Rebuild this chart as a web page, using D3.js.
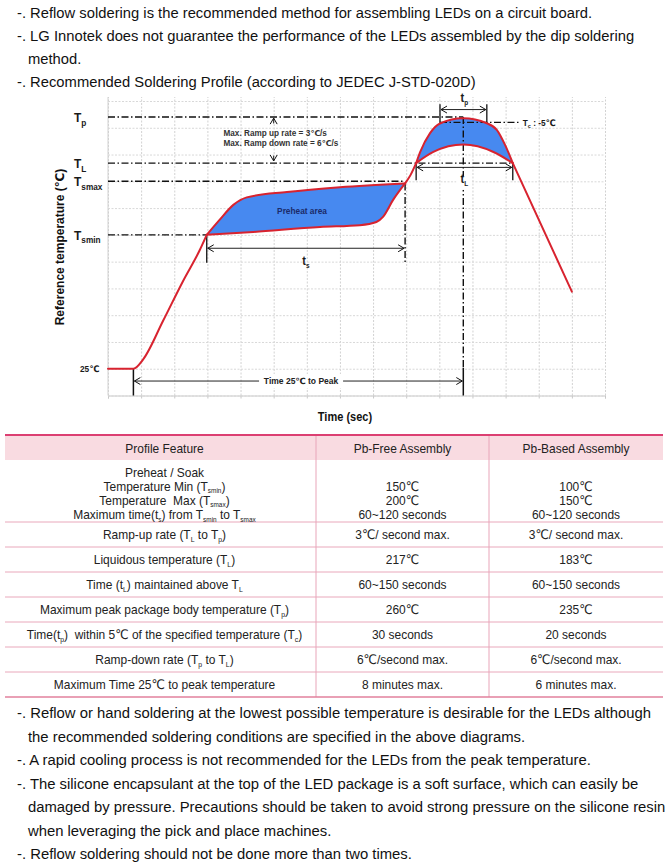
<!DOCTYPE html>
<html><head><meta charset="utf-8">
<script src="https://cdn.jsdelivr.net/npm/d3@7"></script>
<style>
html,body{margin:0;padding:0;background:#fff;}
svg{display:block;}
text{font-family:"Liberation Sans", Arial, "DejaVu Sans", sans-serif; white-space:pre;}
</style></head><body>
<svg id="c" width="672" height="868"></svg>
<script>
// ---------------- DATA ----------------
const introLines = [
  "-. Reflow soldering is the recommended method for assembling LEDs on a circuit board.",
  "-. LG Innotek does not guarantee the performance of the LEDs assembled by the dip soldering",
  "method.",
  "-. Recommended Soldering Profile (according to JEDEC J-STD-020D)"
];
const noteLines = [
  "-. Reflow or hand soldering at the lowest possible temperature is desirable for the LEDs although",
  "the recommended soldering conditions are specified in the above diagrams.",
  "-. A rapid cooling process is not recommended for the LEDs from the peak temperature.",
  "-. The silicone encapsulant at the top of the LED package is a soft surface, which can easily be",
  "damaged by pressure. Precautions should be taken to avoid strong pressure on the silicone resin",
  "when leveraging the pick and place machines.",
  "-. Reflow soldering should not be done more than two times."
];
// temperature levels (°C) and their labels
const levelNames = ["T_{p}", "T_{L}", "T_{smax}", "T_{smin}", "25℃"];
const levelTemps = [260, 217, 200, 150, 25];
const tcTemp = 255;
// grid ticks
const timeGrid = d3.range(0, 451, 30);
const tempGrid = d3.range(0, 276, 25);
// key times (s)
const t25 = 23, tSmin = 89.4, tSmax = 269, tL1 = 279, tL2 = 366.5, tp1 = 300.6, tp2 = 343, tPeak = 321.7;
// profile curves [time s, temperature °C]
const rampProfile  = [[0,25],[23,25],[32,34],[50,70],[68,107],[83,135.6],[89.4,150]];
const preheatUpper = [[89.4,150],[101,164],[113.5,178],[125.6,185],[162,190],[210,194.5],[269,198]];
const preheatLower = [[89.4,150],[131.6,152.7],[192,157.4],[228,159],[243,162],[249,166.8],[258,182.4],[269,198]];
const transition   = [[269,198],[274,206],[279,217]];
const peakUpper    = [[279,217],[282.5,227],[291.6,245],[300.6,254],[321.7,258.8],[343,254.2],[352,248],[359.5,234],[366.5,217]];
const peakLower    = [[279,217],[294.6,227.4],[321.7,234.3],[349,227.4],[366.5,217]];
const cooling      = [[366.5,217],[420,97]];
// table
const tableHeader = ["Profile Feature", "Pb-Free Assembly", "Pb-Based Assembly"];
const featureRows = [
  ["Preheat / Soak", "Temperature Min (T_{smin})", "Temperature  Max (T_{smax})", "Maximum time(t_{s}) from T_{smin} to T_{smax}"],
  ["Ramp-up rate (T_{L} to T_{p})"],
  ["Liquidous temperature (T_{L})"],
  ["Time (t_{L}) maintained above T_{L}"],
  ["Maximum peak package body temperature (T_{p})"],
  ["Time(t_{p})  within 5℃ of the specified temperature (T_{c})"],
  ["Ramp-down rate (T_{p} to T_{L})"],
  ["Maximum Time 25℃ to peak temperature"]
];
const pbFreeRows = [["", "150℃", "200℃", "60~120 seconds"], ["3℃/ second max."], ["217℃"], ["60~150 seconds"], ["260℃"], ["30 seconds"], ["6℃/second max."], ["8 minutes max."]];
const pbBasedRows = [["", "100℃", "150℃", "60~120 seconds"], ["3℃/ second max."], ["183℃"], ["60~150 seconds"], ["235℃"], ["20 seconds"], ["6℃/second max."], ["6 minutes max."]];

// ---------------- HELPERS ----------------
const svg = d3.select("#c");
const SX = 0.92;
function txt(g, x, y, s, o = {}) {
  const size = o.size || 13;
  const t = g.append("text")
    .attr("transform", `translate(${x},${y}) scale(${o.sx ?? SX},1)`)
    .attr("text-anchor", o.anchor || "start")
    .attr("font-size", size)
    .attr("font-weight", o.bold ? "bold" : "normal")
    .attr("fill", o.fill || "#1a1a1a");
  const subDy = o.subDy ?? size * 0.25;
  const parts = s.split(/(_\{[^}]*\})/);
  let shifted = false;
  parts.forEach(p => {
    if (!p) return;
    if (p.startsWith("_{")) {
      t.append("tspan").attr("dy", subDy).attr("font-size", o.subSize || size * 0.62).text(p.slice(2, -1));
      shifted = true;
    } else {
      const ts = t.append("tspan").text(p);
      if (shifted) { ts.attr("dy", -subDy); shifted = false; }
    }
  });
  return t;
}

// ---------------- INTRO TEXT ----------------
introLines.forEach((s, i) => {
  txt(svg, s.startsWith("-.") ? 17 : 28, 18 + i * 23, s, {size: 15, fill: "#111", sx: 0.985});
});

// ---------------- CHART ----------------
const x = d3.scaleLinear().domain([0, 450]).range([108, 605]);
const y = d3.scaleLinear().domain([0, 275]).range([395.5, 101]);

// grid via axes
const gx = svg.append("g").attr("transform", `translate(0,${y(0)})`)
  .call(d3.axisBottom(x).tickValues(timeGrid).tickSize(-(y(0) - 97)).tickFormat(""));
gx.select(".domain").remove();
gx.selectAll(".tick line").attr("stroke", "#d2d2d2").attr("stroke-dasharray", "2,1.5");
const gx2 = svg.append("g").attr("transform", `translate(0,${y(0)})`)
  .call(d3.axisBottom(x).tickValues(timeGrid).tickSize(3).tickFormat(""));
gx2.select(".domain").attr("stroke", "#c8c8c8");
gx2.selectAll(".tick line").attr("stroke", "#c8c8c8");
const gy = svg.append("g").attr("transform", `translate(${x(0)},0)`)
  .call(d3.axisLeft(y).tickValues(tempGrid).tickSize(-(x(450) - x(0))).tickFormat(""));
gy.select(".domain").attr("stroke", "#d2d2d2").attr("d", `M0,97V${y(0)}`);
gy.selectAll(".tick line").attr("stroke", "#d8d8d8").attr("stroke-dasharray", "2,1.5");

// defs: arrow marker
const defs = svg.append("defs");
defs.append("marker").attr("id", "arr").attr("viewBox", "-8 -5 9 10")
  .attr("refX", 0).attr("refY", 0).attr("markerWidth", 9).attr("markerHeight", 10)
  .attr("markerUnits", "userSpaceOnUse").attr("orient", "auto-start-reverse")
  .append("path").attr("d", "M-6,-3.5L0,0L-6,3.5").attr("fill", "none").attr("stroke", "#111").attr("stroke-width", 1);

const line = d3.line().x(d => x(d[0])).y(d => y(d[1])).curve(d3.curveMonotoneX);
const lineLin = d3.line().x(d => x(d[0])).y(d => y(d[1]));

// fills
const BLUE = "#4789f0", RED = "#d8232f";
svg.append("path").attr("fill", BLUE)
  .attr("d", line(preheatUpper) + line(preheatLower.slice().reverse()).replace("M", "L") + "Z");
svg.append("path").attr("fill", BLUE)
  .attr("d", line(peakUpper) + line(peakLower.slice().reverse()).replace("M", "L") + "Z");

// dash-dot reference lines
const DD = "7,2.5,1.5,2.5";
function dline(x1, y1, x2, y2, dash = true, w = 1.4) {
  return svg.append("line").attr("x1", x1).attr("y1", y1).attr("x2", x2).attr("y2", y2)
    .attr("stroke", "#111").attr("stroke-width", w).attr("stroke-dasharray", dash ? DD : null);
}
const levelEnds = [tPeak, tL2, tSmax, tSmin, null];
levelTemps.forEach((T, i) => { if (levelEnds[i] != null) dline(x(0), y(T), x(levelEnds[i]), y(T)); });
// Tc line
dline(x(tp1), y(tcTemp), x(372), y(tcTemp));
// verticals
dline(x(tSmin), y(150), x(tSmin), y(124), false, 1.3);
dline(x(tSmax), y(198), x(tSmax), y(124));
dline(x(tPeak), y(260), x(tPeak), y(26));
dline(x(tPeak), y(26), x(tPeak), y(0), false, 1.5);
dline(x(t25), y(25), x(t25), y(0), false, 1.5);
[tL1, tL2].forEach(t => dline(x(t), y(217), x(t), y(201), false, 1.3));
[tp1, tp2].forEach(t => dline(x(t), y(272), x(t), y(254), false, 1.3));

// profile red outline
[[rampProfile, line], [preheatUpper, line], [preheatLower, line], [transition, line], [peakUpper, line], [peakLower, line], [cooling, lineLin]]
  .forEach(([d, l]) => svg.append("path").attr("d", l(d)).attr("fill", "none").attr("stroke", RED)
    .attr("stroke-width", 2).attr("stroke-linejoin", "round").attr("stroke-linecap", "round"));

// arrows
function arrow(x1, x2, yy, start = true, end = true) {
  const l = svg.append("line").attr("x1", x1).attr("x2", x2).attr("y1", yy).attr("y2", yy)
    .attr("stroke", "#222").attr("stroke-width", 1);
  if (start) l.attr("marker-start", "url(#arr)");
  if (end) l.attr("marker-end", "url(#arr)");
}
arrow(x(tSmin) + 1, x(tSmax) - 1, y(137.5));
arrow(x(tL1) + 1, x(tL2) - 1, y(213));
arrow(x(tp1) + 1, x(tp2) - 1, y(267));
arrow(x(t25) + 1, x(tPeak) - 1, y(13.5));
// ramp arrows (vertical)
svg.append("line").attr("x1", x(150)).attr("x2", x(150)).attr("y1", y(254)).attr("y2", y(259))
  .attr("stroke", "#222").attr("stroke-width", 1).attr("marker-end", "url(#arr)");
svg.append("line").attr("x1", x(150)).attr("x2", x(150)).attr("y1", y(224)).attr("y2", y(219))
  .attr("stroke", "#222").attr("stroke-width", 1).attr("marker-end", "url(#arr)");

// label background for Time 25 to Peak
const midT = 174.8;
svg.append("rect").attr("x", x(midT) - 42).attr("y", y(13.5) - 7).attr("width", 84).attr("height", 14).attr("fill", "#fff");
txt(svg, x(midT), y(13.5) + 3, "Time 25℃ to Peak", {size: 8.5, bold: true, anchor: "middle", fill: "#222", sx: 1});
// t_L label background
svg.append("rect").attr("x", x(tPeak) - 7).attr("y", y(205)).attr("width", 15).attr("height", 14).attr("fill", "#fff");
txt(svg, x(tPeak) + 1, y(200) + 2, "t_{L}", {size: 12, bold: true, anchor: "middle", subSize: 7, subDy: 3});
txt(svg, x(tPeak) + 1, y(276) + 2, "t_{p}", {size: 12, bold: true, anchor: "middle", subSize: 7, subDy: 3});
txt(svg, (x(tSmin) + x(tSmax)) / 2, y(125) + 3, "t_{s}", {size: 12, bold: true, anchor: "middle", subSize: 7, subDy: 3});
txt(svg, x(375.5), y(tcTemp) + 3.5, "T_{c} : -5℃", {size: 9, bold: true, subSize: 6, subDy: 2.5});
txt(svg, 223.5, y(245.5) + 3, "Max. Ramp up rate = 3℃/s", {size: 8.2, bold: true, fill: "#333", sx: 1});
txt(svg, 223.5, y(236) + 3, "Max. Ramp down rate = 6℃/s", {size: 8.2, bold: true, fill: "#333", sx: 1});
txt(svg, 302, y(172) + 3, "Preheat area", {size: 8.3, bold: true, anchor: "middle", fill: "#1b2b6a", sx: 1});

// level labels (y axis)
levelNames.forEach((s, i) => {
  if (s.startsWith("T")) txt(svg, 74, y(levelTemps[i]) + 5, s, {size: 13, bold: true, subSize: 9, subDy: 3.5});
  else txt(svg, 80, y(levelTemps[i]) + 3.5, s, {size: 9, bold: true});
});
// axis titles
svg.append("text").attr("transform", `translate(64,247) rotate(-90)`)
  .attr("text-anchor", "middle").attr("font-size", 12).attr("font-weight", "bold").attr("fill", "#111")
  .text("Reference temperature (℃)");
txt(svg, 345, 421, "Time (sec)", {size: 12, bold: true, anchor: "middle", fill: "#111"});

// ---------------- TABLE ----------------
const tb = svg.append("g");
const colX = [5, 316, 489, 663];
const headTop = 435, headH = 25, rowH = 25, preH = 62;
const rowTops = [headTop + headH];
featureRows.forEach((r, i) => rowTops.push(rowTops[i] + (i === 0 ? preH : rowH)));
const tableBottom = rowTops[rowTops.length - 1];
tb.append("rect").attr("x", colX[0]).attr("y", headTop).attr("width", colX[3] - colX[0]).attr("height", headH).attr("fill", "#f9dbe1");
rowTops.slice(1, -1).forEach(yy => tb.append("line").attr("x1", colX[0]).attr("x2", colX[3]).attr("y1", yy).attr("y2", yy).attr("stroke", "#e9a8bb").attr("stroke-width", 1));
[1, 2].forEach(i => tb.append("line").attr("x1", colX[i]).attr("x2", colX[i]).attr("y1", headTop).attr("y2", tableBottom).attr("stroke", "#e8a5b9").attr("stroke-width", 1));
tb.append("line").attr("x1", colX[0]).attr("x2", colX[3]).attr("y1", headTop).attr("y2", headTop).attr("stroke", "#dc3f72").attr("stroke-width", 2);
tb.append("line").attr("x1", colX[0]).attr("x2", colX[3]).attr("y1", tableBottom).attr("y2", tableBottom).attr("stroke", "#e2809c").attr("stroke-width", 1.5);
const colC = [0, 1, 2].map(i => (colX[i] + colX[i + 1]) / 2);
tableHeader.forEach((s, i) => txt(tb, colC[i] + (i === 0 ? 4 : 0), headTop + 17.5, s, {size: 13, anchor: "middle", fill: "#222"}));
[featureRows, pbFreeRows, pbBasedRows].forEach((rows, c) => {
  rows.forEach((lines, r) => {
    if (r === 0) {
      lines.forEach((s, k) => { if (s) txt(tb, colC[c] + (c === 0 ? 4 : 0), rowTops[0] + 16.5 + k * 14.2, s, {size: 13, anchor: "middle", fill: "#222", subSize: 7, subDy: 2.5}); });
    } else {
      txt(tb, colC[c] + (c === 0 ? 4 : 0), rowTops[r] + 17, lines[0], {size: 13, anchor: "middle", fill: "#222", subSize: 7.5, subDy: 3});
    }
  });
});

// ---------------- NOTES ----------------
noteLines.forEach((s, i) => {
  txt(svg, s.startsWith("-.") ? 17 : 28, 718 + i * 23.5, s, {size: 15, fill: "#111", sx: 0.99});
});
</script>
</body></html>
